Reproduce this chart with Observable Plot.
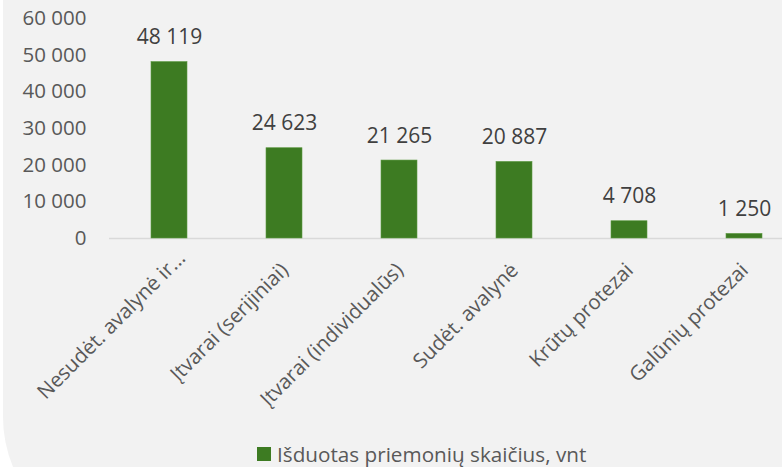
<!DOCTYPE html>
<html>
<head>
<meta charset="utf-8">
<script src="https://cdn.jsdelivr.net/npm/d3@7"></script>
<script src="https://cdn.jsdelivr.net/npm/@observablehq/plot@0.6"></script>
<style>
  html, body { margin: 0; padding: 0; background: #ffffff; }
  body { width: 782px; height: 467px; overflow: hidden; position: relative; font-family: "Open Sans", sans-serif; }
  #panel { position: absolute; left: 3px; top: 0; width: 860px; height: 547px; background: #f2f2f2; border-bottom-left-radius: 130px; }
  #chart { position: absolute; left: 0; top: 0; width: 804px; }
  #chart svg { max-width: none !important; }
  #legend { position: absolute; left: 257px; top: 440px; display: flex; align-items: center; font-size: 20.7px; color: #595959; white-space: nowrap; }
  #legend .sw { width: 14px; height: 14px; background: #3d7b22; margin-right: 6px; }
</style>
</head>
<body>
<div id="panel"></div>
<div id="chart"></div>
<div id="legend"><span class="sw"></span><span id="legtext"></span></div>
<script>
const categories = [
  "Nesudėt. avalynė ir...",
  "Įtvarai (serijiniai)",
  "Įtvarai (individualūs)",
  "Sudėt. avalynė",
  "Krūtų protezai",
  "Galūnių protezai"
];
const values = [48119, 24623, 21265, 20887, 4708, 1250];
const yTicks = [0, 10000, 20000, 30000, 40000, 50000, 60000];
const seriesName = "Išduotas priemonių skaičius, vnt";

const data = categories.map((c, i) => ({category: c, value: values[i], truncated: c.endsWith("...")}));
const fmt = v => d3.format(",")(v).replace(/,/g, " ");
const barColor = "#3d7b22";
const labelStyle = { x: "category", frameAnchor: "bottom", text: "category", rotate: -45, textAnchor: "end", lineAnchor: "bottom", fill: "#595959", fontSize: 20.5 };

const chart = Plot.plot({
  width: 804,
  height: 420,
  marginLeft: 109,
  marginRight: 0,
  marginTop: 18,
  marginBottom: 182,
  style: { fontFamily: "Open Sans", fontSize: "20px", background: "transparent", overflow: "visible", maxWidth: "none" },
  x: { domain: categories, paddingInner: 0.689, paddingOuter: 0.345, axis: null },
  y: { domain: [0, 60000], axis: null },
  marks: [
    Plot.axisY(yTicks, { tickSize: 0, tickPadding: 23, tickFormat: fmt, label: null, fill: "#595959", fontSize: 20.5 }),
    Plot.ruleY([0], { stroke: "#d9d9d9", strokeWidth: 1.3 }),
    Plot.barY(data, { x: "category", y: "value", fill: barColor, stroke: "#5e9a43", strokeWidth: 0.6 }),
    Plot.text(data, { x: "category", y: "value", text: d => fmt(d.value), lineAnchor: "bottom", dy: -18, fill: "#404040", fontSize: 21 }),
    Plot.text(data, { ...labelStyle, filter: d => d.truncated, dx: 17, dy: 21 }),
    Plot.text(data, { ...labelStyle, filter: d => !d.truncated, dx: 5, dy: 33 })
  ]
});
document.getElementById("chart").appendChild(chart);
document.getElementById("legtext").textContent = seriesName;
</script>
</body>
</html>
